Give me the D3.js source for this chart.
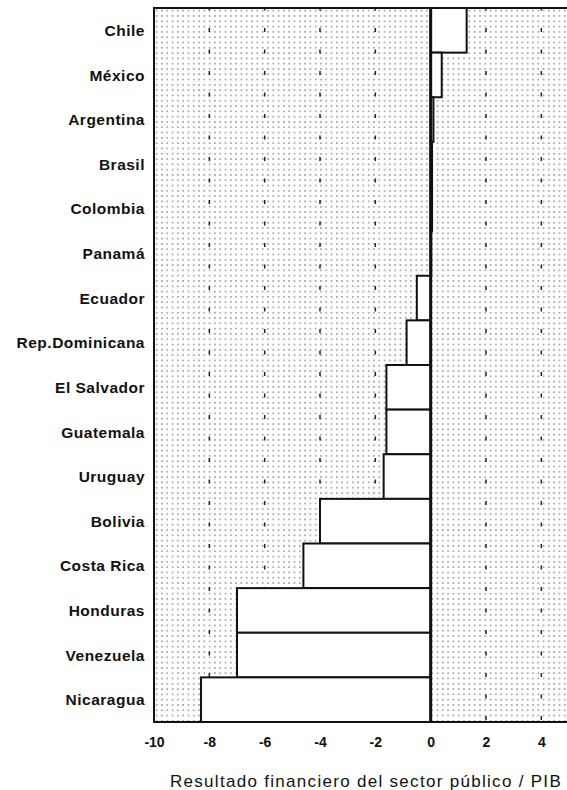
<!DOCTYPE html>
<html>
<head>
<meta charset="utf-8">
<script src="https://cdn.jsdelivr.net/npm/d3@7"></script>
<style>
  body { margin: 0; background: #fff; }
  text { font-family: "Liberation Sans", Arial, sans-serif; fill: #111; }
</style>
</head>
<body>
<div id="chart"></div>
<script>
// data
var countries = ["Chile", "México", "Argentina", "Brasil", "Colombia", "Panamá",
  "Ecuador", "Rep.Dominicana", "El Salvador", "Guatemala", "Uruguay", "Bolivia",
  "Costa Rica", "Honduras", "Venezuela", "Nicaragua"];
var values = [1.3, 0.4, 0.1, 0.05, 0.05, 0.02,
  -0.5, -0.87, -1.6, -1.6, -1.7, -4.0,
  -4.6, -7.0, -7.0, -8.3];
var xTicks = [-10, -8, -6, -4, -2, 0, 2, 4];
var gridTicks = [-8, -6, -4, -2, 2, 4];

var data = countries.map(function(c, i) { return {country: c, value: values[i]}; });

// dimensions
var margin = {top: 8, right: 0, bottom: 68, left: 154},
    width = 567 - margin.left - margin.right,
    height = 790 - margin.top - margin.bottom;

var svg = d3.select("#chart")
  .append("svg")
    .attr("width", 567)
    .attr("height", 790)
  .append("g")
    .attr("transform", "translate(" + margin.left + "," + margin.top + ")");

// x goes past the right edge of the window (up to 5)
var x = d3.scaleLinear()
  .domain([-10, 5])
  .range([0, 415]);

var y = d3.scaleBand()
  .domain(countries)
  .range([0, height])
  .padding(0);

// dotted background
var defs = svg.append("defs");
var pat = defs.append("pattern")
  .attr("id", "dots")
  .attr("patternUnits", "userSpaceOnUse")
  .attr("width", 5.3)
  .attr("height", 5.3);
pat.append("rect")
  .attr("x", 2).attr("y", 2)
  .attr("width", 1.3).attr("height", 1.3)
  .attr("fill", "#666");

svg.append("rect")
  .attr("width", width)
  .attr("height", height)
  .attr("fill", "url(#dots)");

// dashed vertical grid lines
svg.selectAll(".grid")
  .data(gridTicks)
  .enter()
  .append("line")
    .attr("class", "grid")
    .attr("x1", function(d) { return x(d); })
    .attr("x2", function(d) { return x(d); })
    .attr("y1", 0)
    .attr("y2", height)
    .attr("stroke", "#222")
    .attr("stroke-width", 1.5)
    .attr("stroke-dasharray", "4,17.5")
    .attr("stroke-dashoffset", -20);

// bars
svg.selectAll(".bar")
  .data(data)
  .enter()
  .append("rect")
    .attr("class", "bar")
    .attr("x", function(d) { return x(Math.min(0, d.value)); })
    .attr("width", function(d) { return Math.abs(x(d.value) - x(0)); })
    .attr("y", function(d) { return y(d.country); })
    .attr("height", y.bandwidth())
    .attr("fill", "#fff")
    .attr("stroke", "#111")
    .attr("stroke-width", 2);

// zero line
svg.append("line")
  .attr("x1", x(0)).attr("x2", x(0))
  .attr("y1", 0).attr("y2", height)
  .attr("stroke", "#111")
  .attr("stroke-width", 3);

// frame (left, top, bottom)
svg.append("path")
  .attr("d", "M" + width + ",0H0V" + height + "H" + width)
  .attr("fill", "none")
  .attr("stroke", "#111")
  .attr("stroke-width", 2);

// country labels
svg.selectAll(".lab")
  .data(countries)
  .enter()
  .append("text")
    .attr("class", "lab")
    .attr("x", -9)
    .attr("y", function(d) { return y(d) + y.bandwidth() / 2; })
    .attr("dy", "0.36em")
    .attr("text-anchor", "end")
    .style("font-size", "15.5px")
    .style("font-weight", "bold")
    .style("letter-spacing", "0.5px")
    .text(function(d) { return d; });

// x axis (plain hyphen for the minus sign, as in the original)
var xAxis = svg.append("g")
  .attr("transform", "translate(0," + height + ")")
  .call(d3.axisBottom(x).tickValues(xTicks).tickSize(0).tickPadding(15)
    .tickFormat(function(d) { return String(d); }));
xAxis.select(".domain").remove();
xAxis.selectAll("text")
  .style("font-family", "'Liberation Sans', Arial, sans-serif")
  .style("font-size", "14px")
  .style("font-weight", "bold")
  .attr("fill", "#111");

// x axis title
svg.append("text")
  .attr("x", 212)
  .attr("y", height + 65)
  .attr("text-anchor", "middle")
  .style("font-size", "17px")
  .style("letter-spacing", "1.3px")
  .text("Resultado financiero del sector público / PIB");
</script>
</body>
</html>
